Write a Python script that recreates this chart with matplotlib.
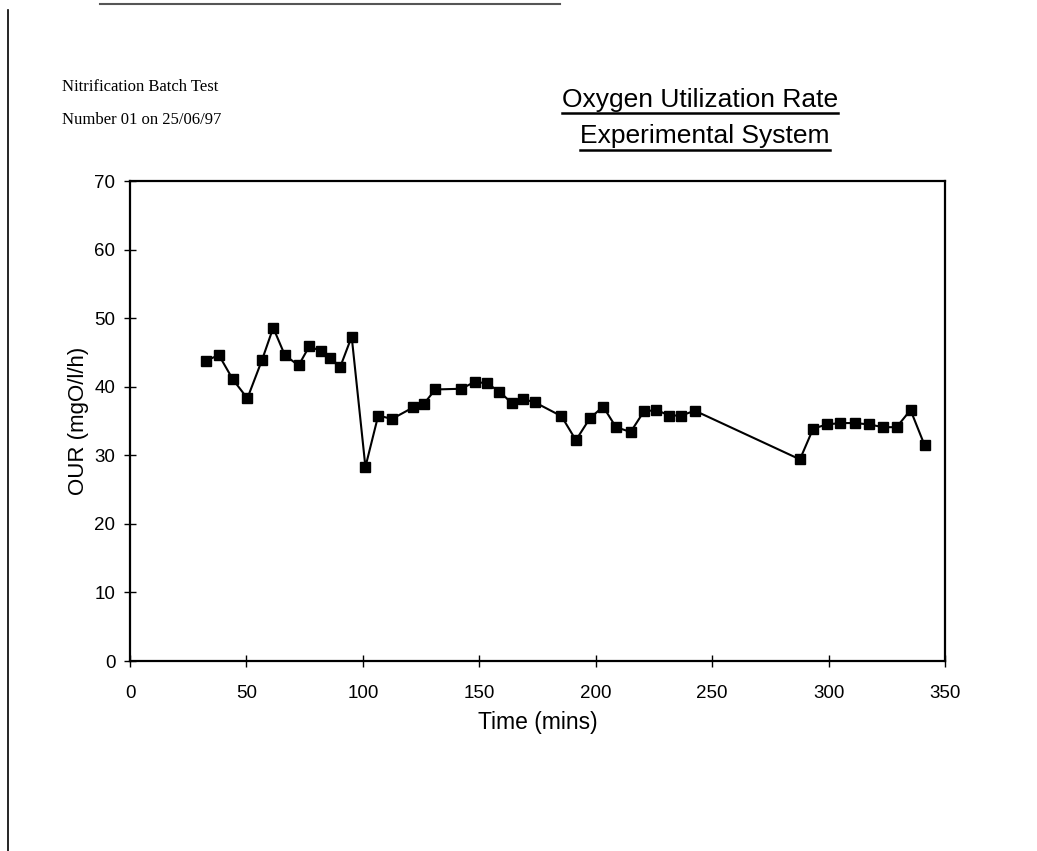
import matplotlib
matplotlib.use("Agg")
import matplotlib.pyplot as plt
from matplotlib.lines import Line2D

# ---- data ----
time_min = [32.5, 38.2, 44.1, 50.4, 56.7, 61.5, 66.5, 72.4, 77.0, 81.9, 85.9, 90.3,
            95.2, 101.1, 106.6, 112.5, 121.7, 126.2, 131.1, 142.3, 148.0, 153.3,
            158.6, 164.0, 168.9, 174.0, 185.3, 191.5, 197.5, 203.2, 208.7, 215.0,
            220.7, 226.1, 231.6, 236.7, 242.6, 287.7, 293.4, 299.4, 305.1, 311.4,
            317.4, 323.4, 329.2, 335.2, 341.2]
our = [43.8, 44.6, 41.1, 38.3, 43.9, 48.6, 44.6, 43.1, 45.9, 45.2, 44.2, 42.9,
       47.3, 28.3, 35.8, 35.3, 37.0, 37.5, 39.6, 39.7, 40.7, 40.5, 39.3, 37.6,
       38.2, 37.7, 35.7, 32.2, 35.4, 37.1, 34.1, 33.4, 36.4, 36.6, 35.8, 35.8,
       36.5, 29.4, 33.9, 34.5, 34.7, 34.7, 34.5, 34.1, 34.1, 36.6, 31.5]
x_ticks = [0, 50, 100, 150, 200, 250, 300, 350]
y_ticks = [0, 10, 20, 30, 40, 50, 60, 70]
title_lines = ["Oxygen Utilization Rate", "Experimental System"]
note_lines = ["Nitrification Batch Test", "Number 01 on 25/06/97"]
x_label = "Time (mins)"
y_label = "OUR (mgO/l/h)"

W, H = 1037, 851
fig = plt.figure(figsize=(W / 100, H / 100), dpi=100)
fig.patch.set_facecolor("white")

def fx(px):
    return px / W

def fy(py):
    return 1 - py / H

ax = fig.add_axes([fx(130), fy(661), (945 - 130) / W, (661 - 181) / H])
ax.plot(time_min, our, color="black", linewidth=1.5, marker="s",
        markersize=6.5, markerfacecolor="black", markeredgecolor="black")
ax.set_xlim(0, 350)
ax.set_ylim(0, 70)
ax.set_xticks(x_ticks)
ax.set_yticks(y_ticks)
sans = "Liberation Sans"
ax.set_xticklabels([str(v) for v in x_ticks], fontsize=13.5, family=sans)
ax.set_yticklabels([str(v) for v in y_ticks], fontsize=13.5, family=sans)
ax.tick_params(axis="both", direction="inout", length=9, width=1.0)
ax.tick_params(axis="x", pad=13)
ax.tick_params(axis="y", pad=6)
for s in ax.spines.values():
    s.set_linewidth(1.6)
ax.set_xlabel(x_label, fontsize=16.5, family=sans, labelpad=6.5)
ax.set_ylabel(y_label, fontsize=16, family=sans, labelpad=4)

# left note
serif = "Liberation Serif"
fig.text(fx(62), fy(91), note_lines[0], fontsize=12, family=serif,
         va="baseline", ha="left")
fig.text(fx(62), fy(124), note_lines[1], fontsize=12, family=serif,
         va="baseline", ha="left")

# underlined title
titles = []
titles.append(fig.text(fx(700), fy(107), title_lines[0], fontsize=19, family=sans,
                       va="baseline", ha="center"))
titles.append(fig.text(fx(705), fy(143), title_lines[1], fontsize=19, family=sans,
                       va="baseline", ha="center"))
fig.canvas.draw()
r = fig.canvas.get_renderer()
for t, uy in zip(titles, [113, 150]):
    bb = t.get_window_extent(renderer=r)
    fig.add_artist(Line2D([bb.x0 / W, bb.x1 / W], [fy(uy), fy(uy)],
                          transform=fig.transFigure, color="black", linewidth=1.8))

# scan frame
fig.add_artist(Line2D([fx(8), fx(8)], [fy(10), fy(851)], transform=fig.transFigure,
                      color="black", linewidth=1.2))
fig.add_artist(Line2D([fx(100), fx(560)], [fy(4), fy(4)], transform=fig.transFigure,
                      color="#555555", linewidth=1.5))

fig.savefig("out.png", dpi=100)
